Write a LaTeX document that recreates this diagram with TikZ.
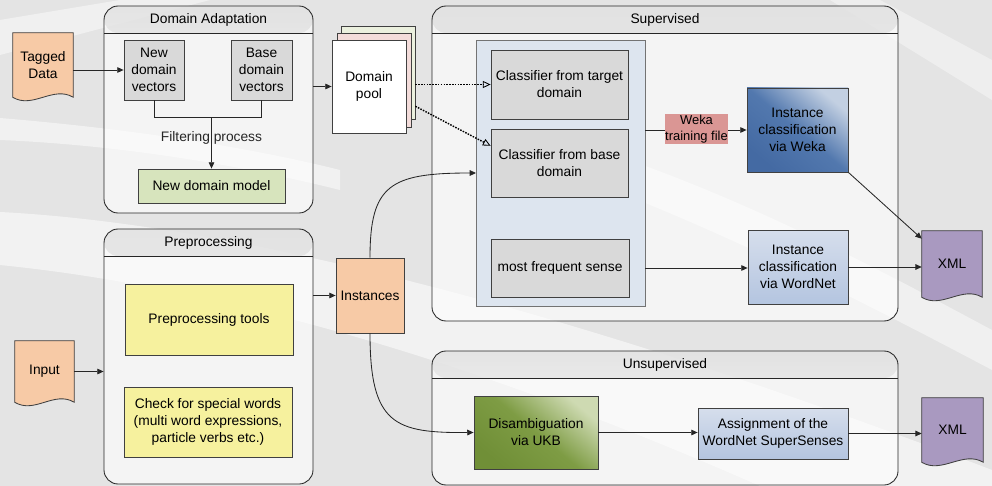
\documentclass[tikz,border=0pt]{standalone}
\usepackage{fontspec}
\setmainfont{Liberation Sans}
\usetikzlibrary{arrows.meta,calc}
\pgfdeclarelayer{backdrop}
\pgfdeclarelayer{background}
\pgfsetlayers{backdrop,background,main}
\definecolor{canvas}{RGB}{228,228,228}
\definecolor{vecgrey}{RGB}{217,217,217}
\definecolor{modelgreen}{RGB}{215,228,189}
\definecolor{peach}{RGB}{247,202,166}
\definecolor{lilac}{RGB}{169,153,192}
\definecolor{toolyellow}{RGB}{246,241,158}
\definecolor{panelblue}{RGB}{221,229,239}
\definecolor{wekared}{RGB}{218,150,148}
\definecolor{wekadark}{RGB}{68,106,163}
\definecolor{wekamid}{RGB}{82,120,174}
\definecolor{wekalight}{RGB}{195,208,226}
\definecolor{wnblue}{RGB}{180,197,224}
\definecolor{wnlight}{RGB}{214,222,236}
\definecolor{ukbgreen}{RGB}{112,143,55}
\definecolor{ukbmid}{RGB}{126,156,68}
\definecolor{ukblight}{RGB}{206,218,178}
\definecolor{poolgreen}{RGB}{235,240,222}
\definecolor{poolpink}{RGB}{243,220,218}

\begin{document}
\begin{tikzpicture}[
    x=0.025cm,y=-0.025cm,
    font=\fontsize{9.8}{12}\selectfont,
    area/.style args={#1/#2/#3/#4}{at={({(#1+#3)/2},{(#2+#4)/2})},
      minimum width={(#3-#1)*0.025cm},minimum height={(#4-#2)*0.025cm}},
    box/.style={draw=black!75,line width=0.6pt,inner sep=0pt,align=center},
    group/.style={box,draw=black!85,fill=white,fill opacity=0.6,rounded corners=10pt,
      path picture={
        \shade[top color=black!16,bottom color=white]
          (path picture bounding box.north west) rectangle ([yshift=-0.675cm]path picture bounding box.north east);
        \draw[black!85,line width=0.6pt]
          ([yshift=-0.675cm]path picture bounding box.north west) -- ([yshift=-0.675cm]path picture bounding box.north east);}},
    vec/.style={box,fill=vecgrey},
    model/.style={box,fill=modelgreen},
    tool/.style={box,fill=toolyellow},
    inst/.style={box,fill=peach},
    doc/.style={inner sep=0pt,align=center},
    panel/.style={box,draw=black!55,fill=panelblue},
    wekabox/.style={box,top color=wekalight,bottom color=wekadark,middle color=wekamid,shading angle=-40},
    wnbox/.style={box,top color=wnlight,bottom color=wnblue},
    ukbbox/.style={box,top color=ukblight,bottom color=ukbgreen,middle color=ukbmid,shading angle=-40},
    tagnote/.style={inner sep=0pt,fill=wekared,align=center,font=\fontsize{9.2}{11.3}\selectfont},
    link/.style={black!85,line width=0.6pt},
    arr/.style={link,-{Triangle[length=4.5pt,width=4pt]}},
    dotarr/.style={black,line width=1pt,dash pattern=on 1.1pt off 0.9pt,
      -{Triangle[open,length=5.5pt,width=5pt,line width=0.6pt]}}
  ]
  \useasboundingbox (0,0) rectangle (992,486);

  % backdrop with light streaks
  \begin{pgfonlayer}{backdrop}
    \fill[canvas] (0,0) rectangle (992,486);
    \begin{scope}
      \clip (0,0) rectangle (992,486);
      \fill[white,opacity=0.45] (0,20) -- (120,0) -- (210,0) -- (0,55) -- cycle;
      \fill[white,opacity=0.5] (0,118) .. controls (120,128) and (240,145) .. (340,170)
        -- (340,190) .. controls (240,165) and (120,145) .. (0,140) -- cycle;
      \fill[white,opacity=0.55] (0,212) .. controls (250,225) and (600,320) .. (992,470)
        -- (992,486) -- (760,486) .. controls (520,380) and (250,290) .. (0,265) -- cycle;
      \fill[white,opacity=0.45] (600,150) .. controls (750,200) and (880,270) .. (992,330)
        -- (992,370) .. controls (860,300) and (730,235) .. (600,185) -- cycle;
      \fill[white,opacity=0.4] (880,0) -- (992,60) -- (992,100) -- (830,0) -- cycle;
    \end{scope}
  \end{pgfonlayer}

  % domain adaptation
  \node[group,area=104/6/313/213] (da) {};
  \node (datitle) at ([yshift=-0.36cm]da.north) {Domain Adaptation};
  \node[vec,area=124/40/184/100] (newvec) {New\\domain\\vectors};
  \node[vec,area=231/40/292/100] (basevec) {Base\\domain\\vectors};
  \node[model,area=138/169/285/203] (model) {New domain model};
  \coordinate (filter) at ($(model.north |- newvec.south)+(0,17)$);
  \draw[link] (newvec.south) |- (filter) -| (basevec.south);
  \draw[arr] (filter) -- node[pos=0.4] (filtertext) {Filtering process} (model.north);

  \node[doc,area=13/33/73/97] (tagged) {Tagged\\Data};
  \draw[arr] (tagged.east |- newvec.west) -- (newvec.west);

  % domain pool
  \node[box,fill=poolgreen,area=341/26/415/119] (poolback) {};
  \node[box,fill=poolpink,area=337/33/411/127] (poolmid) {};
  \node[box,fill=white,area=332/40/406/133] (pool) {Domain\\pool};
  \draw[arr] (da.east |- pool.west) -- (pool.west);

  % supervised
  \node[group,area=432/6/898/321] (sup) {};
  \node (suptitle) at ([yshift=-0.35cm]sup.north) {Supervised};
  \node[panel,area=476/40/645/306] (panel) {};
  \node[vec,area=491/50/628/119] (ctarget) {Classifier from target\\domain};
  \node[vec,area=491/129/628/197] (cbase) {Classifier from base\\domain};
  \node[vec,area=491/239/629/297] (mfs) {most frequent sense};
  \node[wekabox,area=747/88/848/172] (weka) {Instance\\classification\\via Weka};
  \node[wnbox,area=748/230/848/304] (wordnet) {Instance\\classification\\via WordNet};
  \node[doc,area=922/231/982/297] (xmlsup) {XML};

  \draw[dotarr] (poolback.east |- ctarget.west) -- (ctarget.west);
  \draw[dotarr] ($(poolback.north east)!0.86!(poolback.south east)$)
    -- ($(cbase.north west)!0.25!(cbase.south west)$);
  \draw[arr] (panel.east |- weka.west) -- (weka.west);
  \node[tagnote,area=665/114/728/144] (wekafile) {Weka\\training file};
  \draw[arr] (panel.east |- mfs.east) -- (panel.east |- mfs.east -| wordnet.west);
  \draw[arr] (weka.south east) -- ($(xmlsup.north west)!0.12!(xmlsup.south west)$);
  \draw[arr] (wordnet.east) -- (wordnet.east -| xmlsup.west);

  % preprocessing
  \node[group,area=104/229/313/484] (prep) {};
  \node (preptitle) at ([yshift=-0.36cm]prep.north) {Preprocessing};
  \node[tool,area=125/284/293/355] (tools) {Preprocessing tools};
  \node[tool,area=124/387/292/457] (special) {Check for special words\\(multi word expressions,\\particle verbs etc.)};
  \node[doc,area=15/341/74/402] (input) {Input};
  \draw[arr] (input.east) -- (input.east -| prep.west);
  \node[inst,area=336/258/404/333] (inst) {Instances};
  \draw[arr] (prep.east |- inst.west) -- (inst.west);

  % unsupervised
  \node[group,area=432/351/898/485] (unsup) {};
  \node (unsuptitle) at ([yshift=-0.36cm]unsup.north) {Unsupervised};
  \node[ukbbox,area=474/396/598/469] (ukb) {Disambiguation\\via UKB};
  \node[wnbox,area=698/408/848/459] (supersense) {Assignment of the\\WordNet SuperSenses};
  \node[doc,area=922/398/983/462] (xmlunsup) {XML};
  \draw[arr] (ukb.east) -- (ukb.east -| supersense.west);
  \draw[arr] (supersense.east) -- (supersense.east -| xmlunsup.west);

  % instances to both branches
  \coordinate (panelin) at (476,173);
  \draw[arr] (inst.north) .. controls (370,185) and (390,173) .. (panelin);
  \draw[arr] (inst.south) .. controls (370,425) and (395,433) .. (ukb.west);

  % document shapes
  \begin{pgfonlayer}{background}
    \foreach \d/\c in {tagged/peach,input/peach,xmlsup/lilac,xmlunsup/lilac}
      \filldraw[fill=\c,draw=black!75,line width=0.6pt] (\d.south west) -- (\d.north west)
        -- (\d.north east) -- (\d.south east)
        .. controls +(-0.5cm,0.3cm) and +(0.5cm,-0.3cm) .. (\d.south west) -- cycle;
  \end{pgfonlayer}
\end{tikzpicture}
\end{document}
